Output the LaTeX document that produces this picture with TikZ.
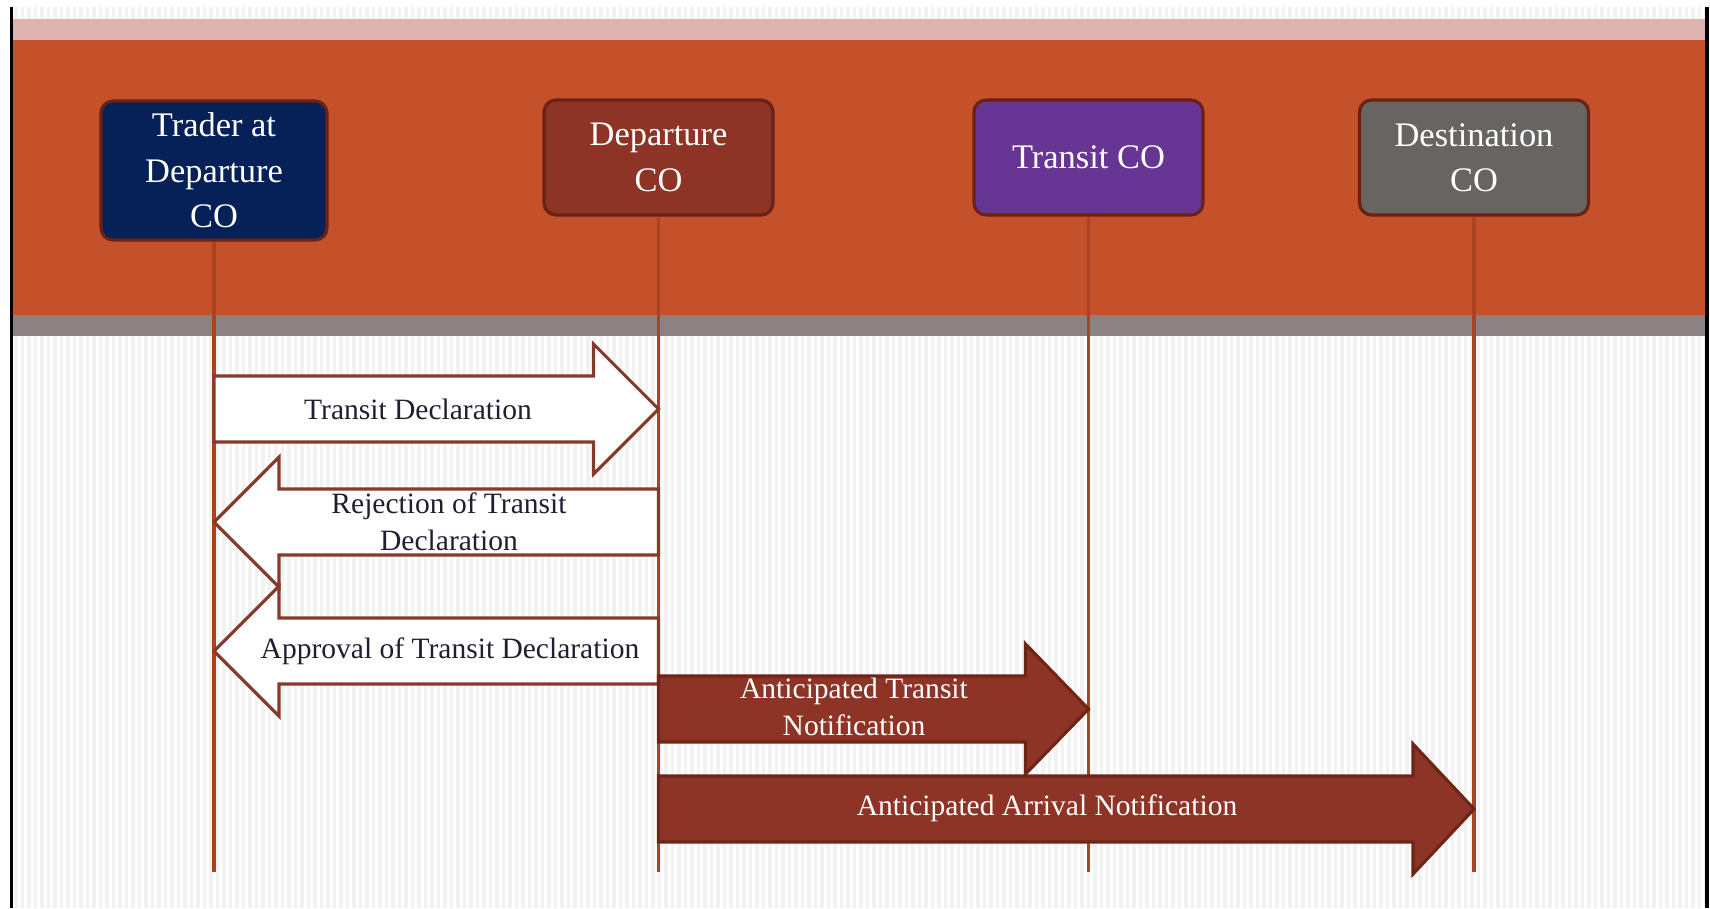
\documentclass[tikz,border=0pt]{standalone}
\usepackage{fontspec}
\setmainfont{Liberation Serif}
\usetikzlibrary{calc}

\definecolor{stripe}{HTML}{F2F2F2}
\definecolor{bandpink}{HTML}{DFB3AD}
\definecolor{bandorange}{HTML}{C4512A}
\definecolor{bandgray}{HTML}{8C8283}
\definecolor{tradercol}{HTML}{062058}
\definecolor{depcol}{HTML}{8E3427}
\definecolor{transitcol}{HTML}{673695}
\definecolor{destcol}{HTML}{686462}
\definecolor{boxedge}{HTML}{6B2216}
\definecolor{lifecol}{HTML}{A94322}
\definecolor{arrowedge}{HTML}{853A2A}
\definecolor{arrowdark}{HTML}{6E2518}
\definecolor{msgtext}{HTML}{1F1F2F}

\tikzset{
  actor/.style={draw=boxedge, line width=0.9pt, rounded corners=0.12cm, text=white,
    align=center, minimum width=2.29cm, minimum height=1.15cm, inner sep=0pt,
    font=\fontsize{9.8}{12.9}\selectfont},
  lifeline/.style={draw=lifecol, line width=0.9pt},
  openarrow/.style={draw=arrowedge, fill=white, line width=0.9pt},
  fullarrow/.style={draw=arrowdark, fill=depcol, line width=0.9pt},
  msg/.style={align=center, inner sep=0pt, text=msgtext,
    font=\fontsize{8.4}{10.5}\selectfont}
}

% style, tail, tip, y, head offset
\newcommand\blockarrow[5]{%
  \draw[#1] ($(#2 |- 0,#4)+(0,-0.33)$) -- ($(#3 |- 0,#4)+(#5,-0.33)$)
    -- ($(#3 |- 0,#4)+(#5,-0.65)$) -- (#3 |- 0,#4)
    -- ($(#3 |- 0,#4)+(#5,0.65)$) -- ($(#3 |- 0,#4)+(#5,0.33)$)
    -- ($(#2 |- 0,#4)+(0,0.33)$) -- cycle;}

\begin{document}
\begin{tikzpicture}[x=1cm, y=-1cm]
 \useasboundingbox (0,0) rectangle (17.10,9.08);
 \fill[white] (0,0) rectangle (17.10,9.08);
 \foreach \i in {0,...,261}
   \fill[stripe] ({0.14+0.065*\i},0.07) rectangle +(0.035,9.01);

 % bands
 \fill[bandpink] (0.10,0.19) rectangle (17.05,0.40);
 \fill[bandorange] (0.10,0.40) rectangle (17.05,3.15);
 \fill[bandgray] (0.10,3.15) rectangle (17.05,3.36);
 \fill[black] (0.10,0.07) rectangle (0.13,9.08);
 \fill[black] (17.05,0.07) rectangle (17.09,9.08);

 \node[actor, fill=tradercol, minimum width=2.26cm, minimum height=1.39cm] (trader) at (2.14,1.705) {Trader at\\Departure\\CO};
 \node[actor, fill=depcol] (dep) at (6.585,1.575) {Departure\\CO};
 \node[actor, fill=transitcol] (transit) at (10.885,1.575) {Transit CO};
 \node[actor, fill=destcol] (dest) at (14.74,1.575) {Destination\\CO};

 \coordinate (traderEnd) at (trader.south |- 0,8.72);
 \coordinate (depEnd) at (dep.south |- 0,8.72);
 \coordinate (transitEnd) at (transit.south |- 0,8.72);
 \coordinate (destEnd) at (dest.south |- 0,8.72);

 \draw[lifeline] (trader.south) -- (traderEnd);
 \draw[lifeline] (dep.south) -- (depEnd);
 \draw[lifeline] (transit.south) -- (transitEnd);
 \draw[lifeline] (dest.south) -- (destEnd);

 \blockarrow{openarrow}{trader.south}{dep.south}{4.09}{-0.65}
 \blockarrow{openarrow}{dep.south}{trader.south}{5.22}{0.65}
 \blockarrow{openarrow}{dep.south}{trader.south}{6.51}{0.65}
 \blockarrow{fullarrow}{dep.south}{transit.south}{7.09}{-0.63}
 \blockarrow{fullarrow}{dep.south}{dest.south}{8.09}{-0.61}

 \node[msg] (declMsg) at (4.18,4.09) {Transit Declaration};
 \node[msg] (rejectMsg) at (4.49,5.22) {Rejection of Transit\\Declaration};
 \node[msg] (approveMsg) at (4.50,6.51) {Approval of Transit Declaration};
 \node[msg, text=white] (transitMsg) at (8.54,7.07) {Anticipated Transit\\Notification};
 \node[msg, text=white] (arrivalMsg) at (10.47,8.08) {Anticipated Arrival Notification};
\end{tikzpicture}
\end{document}
